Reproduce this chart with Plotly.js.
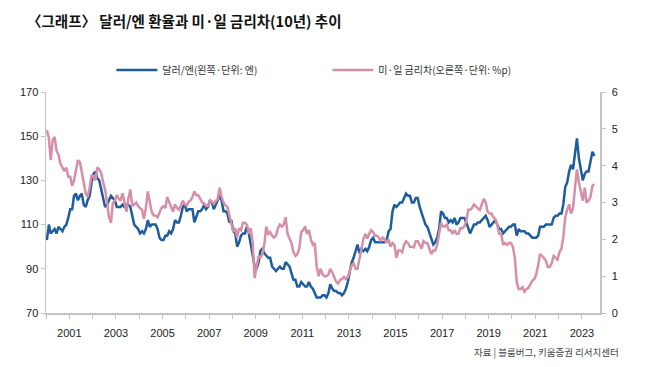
<!DOCTYPE html>
<html><head><meta charset="utf-8">
<script src="https://cdn.plot.ly/plotly-3.0.1.min.js"></script>
<style>html,body{margin:0;padding:0;background:#fff;} #chart{width:650px;height:367px;}</style>
</head><body><div id="chart"></div>
<script>
// Monthly values, Jan 2000 - Jul 2023
const usdJpy = [
 103,110,106,107,108,106,109,108,107,109,110,113,
 117,117,123,124,121,123,124,119,118,121,123,129,
 133,134,131,130,126,121,118,119,121,123,122,121,
 118,118,118,119,118,119,119,118,114,110,109,108,
 106,107,106,108,112,109,110,110,110,108,104,103,
 103,105,105,107,106,108,112,111,111,114,118,119,
 116,117,117,117,111,114,116,116,117,119,117,118,
 121,120,117,119,121,123,121,116,116,115,111,112,
 107,106,100,102,105,106,106,109,106,100,96,91,
 90,93,98,99,97,96,95,95,91,90,89,90,
 91,90,90,93,92,91,88,85,85,82,82,84,
 83,82,82,84,82,81,79,77,77,77,78,78,
 77,79,83,81,80,80,79,79,78,79,81,84,
 89,93,95,98,101,97,99,98,99,98,100,103,
 104,102,102,102,102,102,102,103,107,108,116,119,
 118,119,120,120,122,124,123,123,120,120,122,122,
 118,115,113,110,109,106,104,101,102,104,108,116,
 115,113,113,111,112,111,113,110,111,113,113,113,
 111,108,106,108,110,110,111,111,112,113,114,112,
 109,110,111,112,110,108,108,106,107,108,109,109,
 110,110,105,108,107,107,107,106,106,105,104,104,
 104,105,109,109,109,110,110,110,110,113,114,114,
 115,115,119,127,129,134,137,135,143,149,140,134,
 130,133,134,134,138,143,141
];
const spread = [
 4.96,4.75,4.15,4.70,4.78,4.40,4.30,4.05,3.95,3.85,3.95,3.70,
 3.70,3.45,3.60,3.85,4.15,4.10,3.85,3.60,3.25,3.15,3.40,3.75,
 3.70,3.60,3.95,3.90,3.80,3.55,3.35,3.00,2.60,2.45,3.00,3.05,
 3.20,3.10,3.05,3.25,2.95,2.75,3.10,3.35,2.90,2.95,3.00,2.90,
 2.85,2.80,2.55,2.85,3.30,3.00,2.75,2.65,2.65,2.60,2.75,2.85,
 2.90,2.85,3.15,3.00,2.85,2.75,2.95,2.85,2.80,2.95,3.05,2.95,
 2.92,3.02,3.05,3.15,3.30,3.20,3.20,3.10,3.00,2.98,2.90,2.91,
 3.06,3.02,2.96,3.04,3.10,3.40,3.15,3.00,2.92,2.88,2.65,2.50,
 2.20,2.30,2.05,2.30,2.25,2.45,2.45,2.40,2.15,2.30,1.90,0.95,
 1.30,1.55,1.50,1.60,1.85,2.35,2.15,2.20,2.10,2.05,2.10,2.30,
 2.40,2.35,2.40,2.60,2.15,2.00,1.90,1.65,1.55,1.60,1.75,2.20,
 2.25,2.35,2.15,2.25,2.00,1.85,1.90,1.25,1.00,1.20,1.05,1.00,
 1.00,1.05,1.20,1.10,0.95,0.85,0.80,0.90,0.92,0.98,0.92,0.97,
 1.15,1.30,1.35,1.20,1.20,1.50,1.80,2.00,2.15,2.02,2.15,2.25,
 2.20,2.10,2.10,2.05,1.95,2.05,2.00,1.90,2.00,1.80,1.90,1.85,
 1.50,1.70,1.70,1.65,1.85,1.95,1.90,1.80,1.80,1.78,1.95,1.95,
 1.85,1.75,1.95,1.90,1.90,1.75,1.60,1.70,1.70,1.85,2.20,2.45,
 2.35,2.35,2.40,2.25,2.25,2.15,2.25,2.15,2.15,2.30,2.30,2.35,
 2.50,2.80,2.80,2.85,2.95,2.88,2.84,2.80,2.95,3.10,3.00,2.75,
 2.70,2.70,2.60,2.55,2.40,2.15,2.15,1.85,1.90,1.85,1.90,1.90,
 1.80,1.50,0.85,0.65,0.65,0.70,0.58,0.65,0.68,0.80,0.88,0.92,
 1.05,1.30,1.60,1.55,1.50,1.42,1.25,1.25,1.35,1.55,1.50,1.45,
 1.65,1.75,2.05,2.60,2.80,2.95,2.70,2.85,3.40,3.90,3.55,3.25,
 3.05,3.40,3.00,3.05,3.15,3.45,3.50
];
const startYear = 2000;
const yearTickVals = ['2000','2001','2002','2003','2004','2005','2006','2007','2008','2009','2010','2011','2012','2013','2014','2015','2016','2017','2018','2019','2020','2021','2022','2023'];
const yearTickText = ['','2001','','2003','','2005','','2007','','2009','','2011','','2013','','2015','','2017','','2019','','2021','','2023'];
const leftTicks = [70,90,110,130,150,170];
const rightTicks = [0,1,2,3,4,5,6];
const seriesNames = ['달러/엔(왼쪽·단위: 엔)','미·일 금리차(오른쪽·단위: %p)'];

const dates = usdJpy.map((_, i) => {
  const y = startYear + Math.floor(i / 12);
  const m = (i % 12) + 1;
  return y + '-' + (m < 10 ? '0' + m : m) + '-15';
});

const BLUE = '#1d5d9d', PINK = '#d68fa7';
const traces = [
  {x: dates, y: spread, name: seriesNames[1], yaxis: 'y2', type: 'scatter', mode: 'lines',
   line: {color: PINK, width: 2.5}, legendrank: 2},
  {x: dates, y: usdJpy, name: seriesNames[0], yaxis: 'y', type: 'scatter', mode: 'lines',
   line: {color: BLUE, width: 2.5}, legendrank: 1}
];

const KR = '"Noto Sans CJK KR", "Noto Sans", sans-serif';
const NUM = '"Liberation Sans Narrow", "Arial Narrow", "Liberation Sans", Arial, sans-serif';
const AX = '#c4c4c4';
const layout = {
  width: 650, height: 367,
  margin: {l: 46, r: 50, t: 92, b: 54},
  paper_bgcolor: '#fff', plot_bgcolor: '#fff',
  font: {family: KR, color: '#333'},
  title: {text: '〈그래프〉 달러/엔 환율과 미·일 금리차(10년) 추이',
    xref: 'container', x: 27/650, xanchor: 'left',
    yref: 'container', y: 1 - 22/367, yanchor: 'middle',
    font: {family: KR, size: 14.5, weight: 700, color: '#111'}},
  showlegend: true,
  legend: {orientation: 'h', x: 0.118, xanchor: 'left', y: 1.10, yanchor: 'middle',
    entrywidth: 160, entrywidthmode: 'pixels', itemwidth: 41,
    font: {family: KR, size: 10, color: '#333'}, bgcolor: 'rgba(0,0,0,0)'},
  xaxis: {type: 'date', range: ['2000-01-01', '2023-10-12'],
    tickmode: 'array', tickvals: yearTickVals, ticktext: yearTickText,
    ticks: 'outside', ticklen: 4, tickcolor: AX, tickwidth: 1,
    showline: true, linecolor: AX, linewidth: 1.5, showgrid: false, zeroline: false,
    ticklabelstandoff: 5,
    tickfont: {family: NUM, size: 11, color: '#222'}},
  yaxis: {range: [70, 170], tickmode: 'array', tickvals: leftTicks,
    ticks: 'outside', ticklen: 4, tickcolor: AX, showline: true, linecolor: AX, linewidth: 1.5,
    showgrid: false, zeroline: false,
    tickfont: {family: NUM, size: 11, color: '#222'}},
  yaxis2: {range: [0, 6], overlaying: 'y', side: 'right', tickmode: 'array', tickvals: rightTicks,
    ticks: 'outside', ticklen: 4, tickcolor: AX, showline: true, linecolor: AX, linewidth: 1.5,
    showgrid: false, zeroline: false, ticklabelstandoff: 4,
    tickfont: {family: NUM, size: 11, color: '#222'}},
  annotations: [{text: '자료 | 블룸버그, 키움증권 리서치센터', xref: 'paper', yref: 'paper',
    x: (621 - 46) / 554, xanchor: 'right', y: (313 - 352) / 221, yanchor: 'middle',
    showarrow: false, font: {family: KR, size: 9.5, color: '#444'}}]
};
Plotly.newPlot('chart', traces, layout, {staticPlot: true, displayModeBar: false});
</script>
</body></html>
